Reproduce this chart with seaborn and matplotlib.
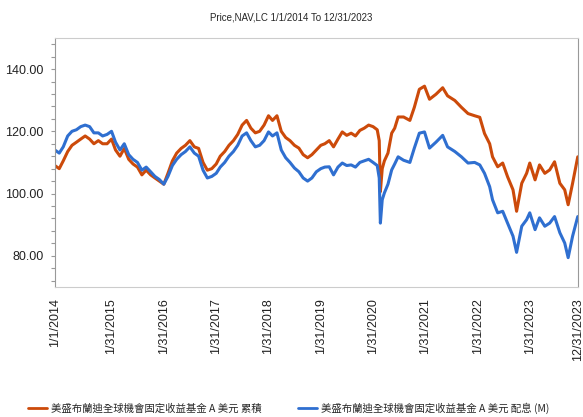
import numpy as np
import pandas as pd
import matplotlib.pyplot as plt
import seaborn as sns

# values
dates = ["2014-01-01", "2014-02-01", "2014-03-01", "2014-04-01", "2014-05-01", "2014-06-01",
         "2014-07-01", "2014-08-01", "2014-09-01", "2014-10-01", "2014-11-01", "2014-12-01",
         "2015-01-01", "2015-02-01", "2015-03-01", "2015-04-01", "2015-05-01", "2015-06-01",
         "2015-07-01", "2015-08-01", "2015-09-01", "2015-10-01", "2015-11-01", "2015-12-01",
         "2016-01-01", "2016-02-01", "2016-03-01", "2016-04-01", "2016-05-01", "2016-06-01",
         "2016-07-01", "2016-08-01", "2016-09-01", "2016-10-01", "2016-11-01", "2016-12-01",
         "2017-01-01", "2017-02-01", "2017-03-01", "2017-04-01", "2017-05-01", "2017-06-01",
         "2017-07-01", "2017-08-01", "2017-09-01", "2017-10-01", "2017-11-01", "2017-12-01",
         "2018-01-01", "2018-02-01", "2018-03-01", "2018-04-01", "2018-05-01", "2018-06-01",
         "2018-07-01", "2018-08-01", "2018-09-01", "2018-10-01", "2018-11-01", "2018-12-01",
         "2019-01-01", "2019-02-01", "2019-03-01", "2019-04-01", "2019-05-01", "2019-06-01",
         "2019-07-01", "2019-08-01", "2019-09-01", "2019-10-01", "2019-11-01", "2019-12-01",
         "2020-01-01", "2020-02-01", "2020-03-01", "2020-03-15", "2020-03-23", "2020-04-05",
         "2020-04-20", "2020-05-15", "2020-06-10", "2020-07-01", "2020-07-25", "2020-09-01",
         "2020-10-15", "2020-11-15", "2020-12-20", "2021-01-25", "2021-03-01", "2021-04-15",
         "2021-06-01", "2021-07-05", "2021-08-25", "2021-10-10", "2021-11-25", "2022-01-10",
         "2022-02-15", "2022-03-20", "2022-04-25", "2022-05-15", "2022-06-20", "2022-07-25",
         "2022-08-28", "2022-10-05", "2022-10-30", "2022-12-05", "2023-01-08", "2023-01-30",
         "2023-03-08", "2023-04-08", "2023-05-15", "2023-06-18", "2023-07-22", "2023-08-28",
         "2023-10-01", "2023-10-25", "2023-11-25", "2023-12-31"]

acc = [109.0, 108.0, 110.5, 113.5, 115.5, 116.5, 117.5, 118.5, 117.5, 116.0, 117.0, 116.0,
       116.0, 117.5, 114.0, 112.0, 114.5, 111.0, 109.5, 108.5, 106.0, 107.5, 106.0, 105.0,
       104.0, 103.0, 106.5, 110.5, 113.0, 114.5, 115.5, 117.0, 115.0, 114.5, 110.0, 107.5,
       108.0, 109.5, 112.0, 113.5, 115.5, 117.0, 119.0, 122.0, 123.5, 121.0, 119.5, 120.0,
       122.0, 125.0, 123.5, 125.0, 120.0, 118.0, 117.0, 115.5, 114.6, 112.5, 111.5, 112.5,
       114.0, 115.5, 116.0, 117.0, 115.0, 117.5, 119.8, 118.7, 119.4, 118.5, 120.3, 121.0,
       122.0, 121.5, 120.5, 117.0, 100.6, 108.0, 110.5, 113.0, 119.4, 121.0, 124.6, 124.6,
       123.5, 127.7, 133.5, 134.5, 130.3, 131.9, 134.0, 131.4, 129.9, 127.7, 125.7, 125.0,
       124.5, 119.3, 116.0, 111.8, 108.6, 109.8, 105.4, 101.2, 94.3, 103.3, 106.5, 109.8,
       104.4, 109.2, 106.5, 107.6, 110.2, 103.3, 101.2, 96.4, 103.3, 111.8]

dist = [114.0, 113.0, 115.0, 118.5, 120.0, 120.5, 121.5, 122.0, 121.5, 119.5, 119.5, 118.5,
        119.0, 120.0, 116.5, 114.0, 116.0, 112.5, 111.0, 110.0, 107.5, 108.5, 107.0, 105.5,
        104.5, 103.0, 105.5, 109.0, 111.0, 112.5, 113.5, 115.0, 113.0, 112.0, 107.5, 105.0,
        105.5, 106.5, 108.5, 110.0, 112.0, 113.5, 115.5, 118.5, 119.5, 117.0, 115.0, 115.5,
        117.0, 119.8, 118.5, 119.5, 114.0, 111.5, 110.0, 108.2, 107.0, 105.0, 104.0, 105.0,
        107.0, 108.0, 108.5, 108.6, 106.0, 108.5, 109.8, 109.0, 109.2, 108.5, 110.0, 110.5,
        111.0, 110.0, 109.0, 105.0, 90.5, 98.0, 100.2, 103.0, 107.6, 109.5, 111.8, 110.7,
        110.0, 114.6, 119.4, 119.8, 114.6, 116.5, 118.7, 115.0, 113.5, 111.8, 109.8, 110.0,
        109.2, 106.5, 102.2, 98.0, 93.8, 94.3, 90.5, 86.3, 81.1, 89.5, 91.6, 93.8,
        88.4, 92.2, 89.5, 90.5, 92.6, 87.4, 84.1, 79.4, 86.3, 92.6]

names = ["美盛布蘭迪全球機會固定收益基金 A 美元 累積",
         "美盛布蘭迪全球機會固定收益基金 A 美元 配息 (M)"]
colors = ["#cc4a0a", "#2f6fd0"]

tick_dates = ["2014-01-01", "2015-01-31", "2016-01-31", "2017-01-31", "2018-01-31", "2019-01-31",
              "2020-01-31", "2021-01-31", "2022-01-31", "2023-01-31", "2023-12-31"]
tick_labels = ["1/1/2014", "1/31/2015", "1/31/2016", "1/31/2017", "1/31/2018", "1/31/2019",
               "1/31/2020", "1/31/2021", "1/31/2022", "1/31/2023", "12/31/2023"]

df = pd.DataFrame({"Date": pd.to_datetime(dates), names[0]: acc, names[1]: dist})
df = df.melt(id_vars="Date", var_name="Fund", value_name="NAV")

sns.set_style("white")
plt.rcParams["font.family"] = ["Liberation Sans", "Noto Sans CJK TC"]

fig = plt.figure(figsize=(5.83, 4.17), dpi=100)
ax = fig.add_axes([0.094, 0.312, 0.897, 0.597])

sns.lineplot(data=df, x="Date", y="NAV", hue="Fund", palette=colors, linewidth=2.2, ax=ax, legend=False)

ax.set_xlim(pd.Timestamp("2014-01-01"), pd.Timestamp("2023-12-31"))
ax.set_ylim(70, 150)
ax.set_xticks(pd.to_datetime(tick_dates))
ax.set_xticklabels(tick_labels, rotation=90, fontsize=9, color="#222222")
ax.set_yticks([80, 100, 120, 140])
ax.set_yticklabels(["80.00", "100.00", "120.00", "140.00"], fontsize=9, color="#222222")
ax.set_yticks(np.arange(72, 149, 4), minor=True)
ax.tick_params(axis="y", which="both", left=True, length=3, width=0.8, color="#999999", pad=5)
ax.tick_params(axis="x", length=0, pad=8)
ax.set_xlabel("")
ax.set_ylabel("")
for side in ["top", "right", "bottom"]:
    ax.spines[side].set_color("#cccccc")
ax.spines["left"].set_color("#999999")
ax.spines["right"].set_color("#999999")

fig.text(0.5, 0.958, "Price,NAV,LC 1/1/2014 To 12/31/2023", ha="center", va="center", fontsize=7)

handles = [plt.Line2D([], [], color=c, linewidth=2) for c in colors]
fig.legend(handles, names, loc="center", bbox_to_anchor=(0.495, 0.022), ncol=2, frameon=False,
           fontsize=7.5, handlelength=1.8, columnspacing=3.5, handletextpad=0.4,
           prop={"family": ["Noto Sans CJK TC"], "size": 7.5})

fig.savefig("out.png", dpi=100)
